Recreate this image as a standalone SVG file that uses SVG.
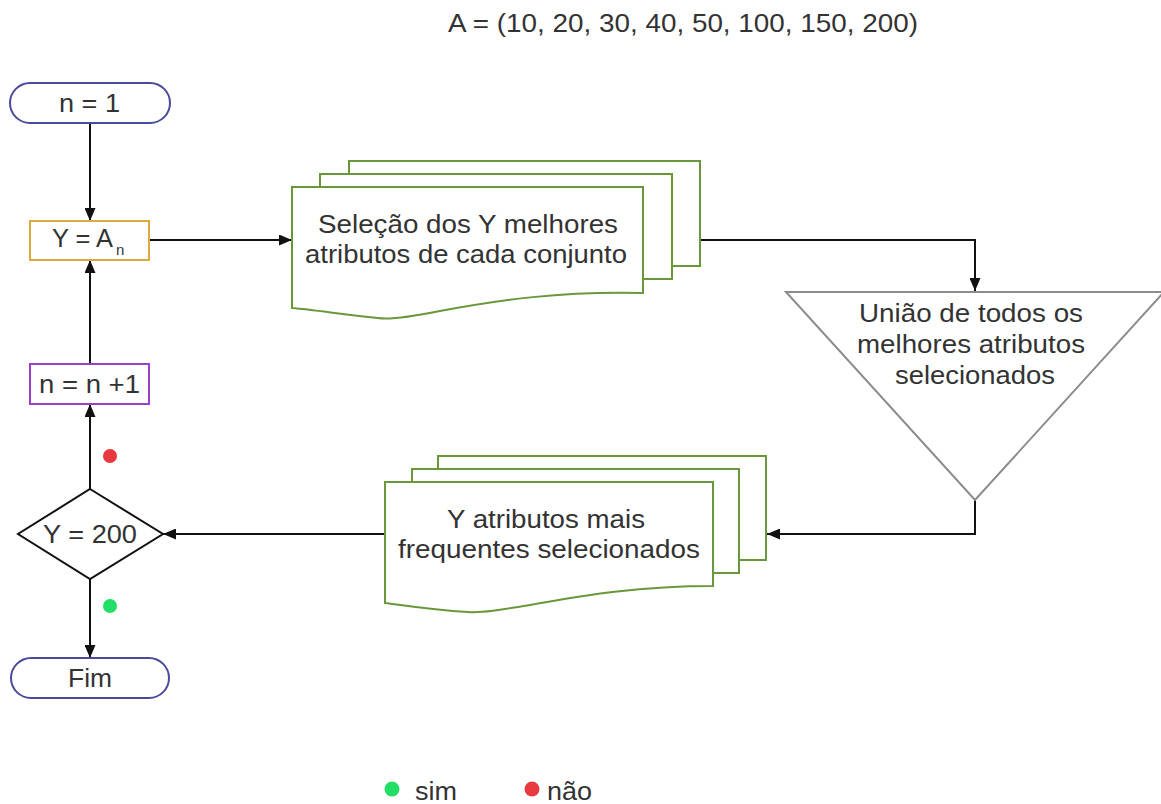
<svg xmlns="http://www.w3.org/2000/svg" width="1161" height="804" viewBox="0 0 1161 804">
  <style>
    .bg { fill: #ffffff; }
    .lbl { font-family: "Liberation Sans", Arial, sans-serif; font-size: 25px; fill: #333333; }
    .sub { font-family: "Liberation Sans", Arial, sans-serif; font-size: 15px; fill: #333333; }
    .term { fill: #ffffff; stroke: #4a4a9c; stroke-width: 2; }
    .proc-y { fill: #ffffff; stroke: #dcaa3c; stroke-width: 2; }
    .proc-n { fill: #ffffff; stroke: #9a3fc6; stroke-width: 2; }
    .doc { fill: #ffffff; stroke: #6a973a; stroke-width: 2; }
    .merge { fill: #ffffff; stroke: #8c8c8c; stroke-width: 2; }
    .decision { fill: #ffffff; stroke: #111111; stroke-width: 2; }
    .wire { fill: none; stroke: #111111; stroke-width: 2; }
    .dot-no { fill: #e8393f; }
    .dot-yes { fill: #22dd66; }
  </style>
  <defs>
    <marker id="arrow" markerUnits="userSpaceOnUse" markerWidth="13" markerHeight="11" refX="13" refY="5.5" orient="auto">
      <path d="M0,0 L13,5.5 L0,11 z" fill="#111111"/>
    </marker>
  </defs>

  <rect class="bg" x="0" y="0" width="1161" height="804"/>

  <!-- value list -->
  <g id="title">
    <text class="lbl" x="448" y="32" textLength="470" lengthAdjust="spacingAndGlyphs">A = (10, 20, 30, 40, 50, 100, 150, 200)</text>
  </g>

  <!-- connectors -->
  <g id="connectors">
    <path class="wire" d="M90,123 L90,221" marker-end="url(#arrow)"/>
    <path class="wire" d="M149,240 L292,240" marker-end="url(#arrow)"/>
    <path class="wire" d="M700,240 L975,240 L975,291" marker-end="url(#arrow)"/>
    <path class="wire" d="M975,500 L975,534 L767,534" marker-end="url(#arrow)"/>
    <path class="wire" d="M385,534 L163,534" marker-end="url(#arrow)"/>
    <path class="wire" d="M90,489 L90,404" marker-end="url(#arrow)"/>
    <path class="wire" d="M90,364 L90,260" marker-end="url(#arrow)"/>
    <path class="wire" d="M90,579 L90,658" marker-end="url(#arrow)"/>
  </g>

  <!-- start -->
  <g id="start">
    <rect class="term" x="10" y="83" width="160" height="40" rx="20" ry="20"/>
    <text class="lbl" x="59" y="112" textLength="61" lengthAdjust="spacingAndGlyphs">n = 1</text>
  </g>

  <!-- Y = A_n -->
  <g id="assign-y">
    <rect class="proc-y" x="30" y="221" width="119" height="39"/>
    <text class="lbl" x="52" y="247" textLength="61" lengthAdjust="spacingAndGlyphs">Y = A</text>
    <text class="sub" x="116" y="255">n</text>
  </g>

  <!-- n = n + 1 -->
  <g id="increment">
    <rect class="proc-n" x="30" y="364" width="119" height="40"/>
    <text class="lbl" x="39" y="393" textLength="101" lengthAdjust="spacingAndGlyphs">n = n +1</text>
  </g>

  <!-- decision -->
  <g id="check">
    <polygon class="decision" points="90,489 163,534 90,579 18,534"/>
    <text class="lbl" x="43" y="543" textLength="94" lengthAdjust="spacingAndGlyphs">Y = 200</text>
  </g>

  <!-- end -->
  <g id="end">
    <rect class="term" x="11" y="658" width="158" height="40" rx="20" ry="20"/>
    <text class="lbl" x="68" y="687" textLength="44" lengthAdjust="spacingAndGlyphs">Fim</text>
  </g>

  <!-- stacked documents: selection per set -->
  <g id="select-docs">
    <rect class="doc" x="349" y="161" width="351" height="105"/>
    <rect class="doc" x="320" y="174" width="352" height="105"/>
    <path class="doc" d="M292,187 L643,187 L643,293 C560,291 500,300 440,311 C410,317 390,320 378,318 C340,314 315,310 292,308 Z"/>
    <text class="lbl" x="318" y="233" textLength="300" lengthAdjust="spacingAndGlyphs">Seleção dos Y melhores</text>
    <text class="lbl" x="305" y="263" textLength="322" lengthAdjust="spacingAndGlyphs">atributos de cada conjunto</text>
  </g>

  <!-- merge -->
  <g id="union">
    <polygon class="merge" points="786,292 1164,292 975,500"/>
    <text class="lbl" x="859" y="322" textLength="224" lengthAdjust="spacingAndGlyphs">União de todos os</text>
    <text class="lbl" x="857" y="353" textLength="228" lengthAdjust="spacingAndGlyphs">melhores atributos</text>
    <text class="lbl" x="895" y="384" textLength="160" lengthAdjust="spacingAndGlyphs">selecionados</text>
  </g>

  <!-- stacked documents: most frequent -->
  <g id="frequent-docs">
    <rect class="doc" x="438" y="456" width="328" height="104"/>
    <rect class="doc" x="412" y="469" width="327" height="104"/>
    <path class="doc" d="M385,482 L713,482 L713,586 C640,586 585,595 530,605 C500,610 482,613 468,612 C432,610 408,606 385,603 Z"/>
    <text class="lbl" x="447" y="528" textLength="198" lengthAdjust="spacingAndGlyphs">Y atributos mais</text>
    <text class="lbl" x="398" y="558" textLength="302" lengthAdjust="spacingAndGlyphs">frequentes selecionados</text>
  </g>

  <!-- branch markers -->
  <g id="branch-no">
    <circle class="dot-no" cx="110" cy="456" r="7"/>
  </g>
  <g id="branch-yes">
    <circle class="dot-yes" cx="110" cy="606" r="7"/>
  </g>

  <!-- legend -->
  <g id="legend">
    <circle class="dot-yes" cx="392" cy="789" r="7.5"/>
    <text class="lbl" x="415" y="800" textLength="42" lengthAdjust="spacingAndGlyphs">sim</text>
    <circle class="dot-no" cx="532" cy="789" r="7.5"/>
    <text class="lbl" x="547" y="800" textLength="45" lengthAdjust="spacingAndGlyphs">não</text>
  </g>
</svg>
